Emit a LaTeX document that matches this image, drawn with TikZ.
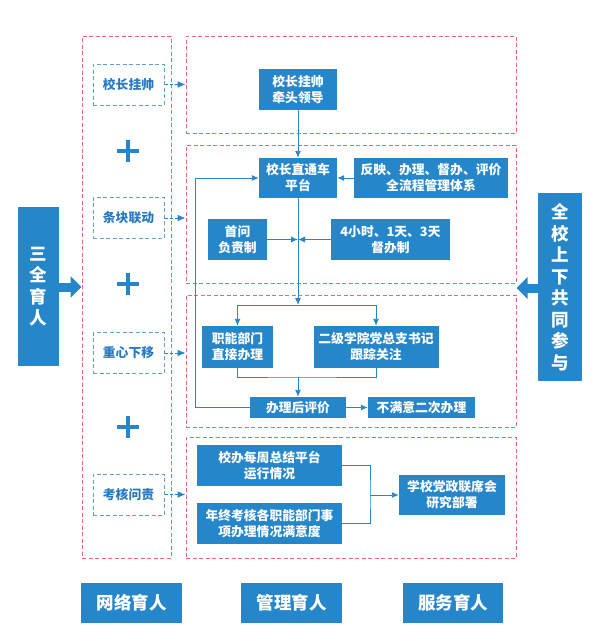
\documentclass[tikz,border=0pt]{standalone}
\usepackage{fontspec}
\newfontfamily\cjk{Noto Sans CJK SC}
\usetikzlibrary{arrows.meta}
\definecolor{boxblue}{RGB}{38,134,202}
\definecolor{tagblue}{RGB}{100,160,200}
\definecolor{tagtext}{RGB}{40,122,192}
\definecolor{dashred}{RGB}{226,104,114}
\tikzset{
	box/.style={fill=boxblue, text=white, align=center, inner sep=0pt, font=\cjk\bfseries\fontsize{12.8}{16}\selectfont},
	bigbox/.style={box, font=\cjk\bfseries\fontsize{17.5}{21.5}\selectfont},
	tagbox/.style={draw=tagblue, line width=1pt, dash pattern=on 4pt off 2.5pt, text=tagtext, inner sep=0pt, minimum width=71pt, minimum height=41pt, font=\cjk\bfseries\fontsize{12.8}{16}\selectfont},
	panel/.style={draw=dashred, line width=1pt, dash pattern=on 4pt off 2.5pt, inner sep=0pt},
	link/.style={draw=boxblue, line width=0.9pt, -{Latex[length=7pt,width=6pt]}},
	tagarrow/.style={draw=boxblue, line width=1pt, dash pattern=on 3pt off 2pt, -{Latex[length=8pt,width=7pt]}},
	fat/.style={draw=boxblue, line width=9pt, -{Triangle[width=21pt,length=11pt]}},
	plus/.style={draw=boxblue, line width=4pt}
}
\begin{document}
\begin{tikzpicture}[x=1pt,y=-1pt]
		\useasboundingbox (0,0) rectangle (599,641);
		\node[panel, minimum width=89pt, minimum height=522pt] (col) at (126.5,297) {};
		\node[panel, minimum width=330pt, minimum height=97pt] (p1) at (351,84.5) {};
		\node[panel, minimum width=330pt, minimum height=138pt] (p2) at (351,214) {};
		\node[panel, minimum width=330pt, minimum height=132pt] (p3) at (351,361) {};
		\node[panel, minimum width=330pt, minimum height=121pt] (p4) at (351,497.5) {};
		\node[tagbox] (t1) at (128.5,84.5) {校长挂帅};
		\node[tagbox] (t2) at (128.5,218) {条块联动};
		\node[tagbox] (t3) at (128.5,353) {重心下移};
		\node[tagbox] (t4) at (128.5,494.5) {考核问责};
		\foreach \y in {151,284,427}
			\draw[plus] (117,\y) -- (139,\y) (128,\y-11) -- (128,\y+11);
		\draw[tagarrow] (t1.east) -- (t1 -| p1.west);
		\draw[tagarrow] (t2.east) -- (t2 -| p2.west);
		\draw[tagarrow] (t3.east) -- (t3 -| p3.west);
		\draw[tagarrow] (t4.east) -- (t4 -| p4.west);
		\node[bigbox, minimum width=41pt, minimum height=159pt] (three) at (38.5,286.5) {三\\全\\育\\人};
		\node[bigbox, minimum width=44pt, minimum height=188pt] (whole) at (560,287) {全\\校\\上\\下\\共\\同\\参\\与};
		\draw[fat] (three.east |- 0,287) -- (col.west |- 0,287);
		\draw[fat] (whole.west |- 0,288) -- (p2.east |- 0,288);
		\node[box, minimum width=78pt, minimum height=41pt] (lead) at (298,89.5) {校长挂帅\\牵头领导};
		\node[box, minimum width=78pt, minimum height=40pt] (platform) at (298,178) {校长直通车\\平台};
		\node[box, minimum width=154pt, minimum height=40pt] (system) at (431,178) {反映、办理、督办、评价\\全流程管理体系};
		\node[box, minimum width=59pt, minimum height=41pt] (firstask) at (237.5,239.5) {首问\\负责制};
		\node[box, minimum width=119pt, minimum height=41pt] (deadline) at (390.5,239.5) {4小时、1天、3天\\督办制};
		\node[box, minimum width=71pt, minimum height=42pt] (dept) at (237.5,347) {职能部门\\直接办理};
		\node[box, minimum width=125pt, minimum height=42pt] (college) at (376,347) {二级学院党总支书记\\跟踪关注};
		\node[box, minimum width=96pt, minimum height=21pt] (evaluate) at (298,407.5) {办理后评价};
		\node[box, minimum width=107pt, minimum height=21pt] (again) at (421.5,407.5) {不满意二次办理};
		\node[box, minimum width=145pt, minimum height=41pt] (weekly) at (269.5,465.5) {校办每周总结平台\\运行情况};
		\node[box, minimum width=145pt, minimum height=41pt] (yearend) at (269.5,523.5) {年终考核各职能部门事\\项办理情况满意度};
		\node[box, minimum width=106pt, minimum height=40pt] (meeting) at (452,495) {学校党政联席会\\研究部署};
		\node[bigbox, minimum width=101pt, minimum height=40pt] (net) at (131.5,603) {网络育人};
		\node[bigbox, minimum width=101pt, minimum height=40pt] (mgmt) at (291.5,603) {管理育人};
		\node[bigbox, minimum width=100pt, minimum height=40pt] (serv) at (453,603) {服务育人};
		\coordinate (split) at (298,305);
		\coordinate (merge) at (298,377);
		\coordinate (loop) at (195,300);
		\coordinate (join) at (370,495);
		\draw[link] (lead) -- (platform);
		\draw[link] (system) -- (platform);
		\draw[link] (platform) -- (split);
		\draw[link] (firstask) -- (firstask -| platform);
		\draw[link] (deadline) -- (deadline -| platform);
		\draw[link, -] (split -| dept) -- (split -| college);
		\draw[link] (split -| dept) -- (dept);
		\draw[link] (split -| college) -- (college);
		\draw[link, -] (dept.south) |- (merge) -| (college.south);
		\draw[link] (merge) -- (evaluate);
		\draw[link] (evaluate) -- (again);
		\draw[link] (evaluate.west) -- (evaluate -| loop) |- (platform.west);
		\draw[link, -] (weekly.east) -| (join) |- (yearend.east);
		\draw[link] (join) -- (meeting);
	\end{tikzpicture}
\end{document}
